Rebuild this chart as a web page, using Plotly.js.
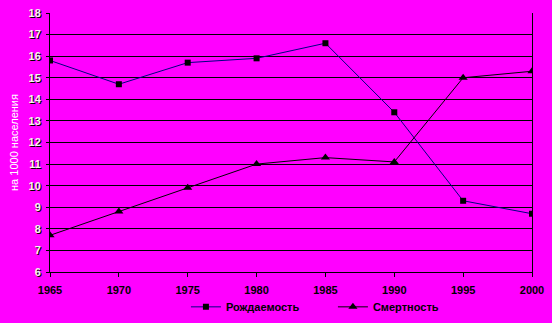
<!DOCTYPE html>
<html><head><meta charset="utf-8">
<script src="https://cdn.plot.ly/plotly-3.0.1.min.js"></script>
<style>body{margin:0;background:#FF00FF;}#c{width:552px;height:323px;}</style>
</head><body><div id="c"></div>
<script>
const years = [1965, 1970, 1975, 1980, 1985, 1990, 1995, 2000];
const birthRate = [15.8, 14.7, 15.7, 15.9, 16.6, 13.4, 9.3, 8.7];
const deathRate = [7.7, 8.8, 9.9, 11.0, 11.3, 11.1, 15.0, 15.3];
const seriesNames = ['Рождаемость', 'Смертность'];
const yTitle = 'на 1000 населения';

const traces = [
  {x: years, y: birthRate, name: seriesNames[0], mode: 'lines+markers', type: 'scatter',
   line: {color: '#000080', width: 1}, marker: {symbol: 'square', size: 6, color: '#000'}},
  {x: years, y: deathRate, name: seriesNames[1], mode: 'lines+markers', type: 'scatter',
   line: {color: '#000', width: 1}, marker: {symbol: 'triangle-up', size: 8, color: '#000'}}
];
const layout = {
  width: 552, height: 323,
  paper_bgcolor: '#FF00FF', plot_bgcolor: '#FF00FF',
  margin: {l: 50, r: 20, t: 13, b: 51},
  font: {family: 'Liberation Sans, Arial, sans-serif', color: '#000'},
  xaxis: {range: [1965, 2000], tickvals: years, ticks: 'outside', ticklen: 4, tickcolor: '#000',
    showgrid: false, zeroline: false, showline: true, linecolor: '#000', linewidth: 1,
    automargin: false, ticklabelstandoff: 4,
    tickfont: {size: 11, weight: 'bold', color: '#000'}},
  yaxis: {range: [6, 18], dtick: 1, ticks: 'outside', ticklen: 3, tickcolor: '#000',
    showgrid: true, gridcolor: '#000', gridwidth: 1, zeroline: false,
    showline: true, linecolor: '#000', linewidth: 1, mirror: true,
    automargin: false, ticklabelstandoff: 3,
    tickfont: {size: 11, weight: 'bold', color: '#f4f4f4', shadow: '1px 1px 0px #000'},
    title: {text: yTitle, standoff: 7, font: {size: 11, color: '#fff'}}},
  showlegend: true,
  legend: {orientation: 'h', x: 0.282, xanchor: 'left', xref: 'paper',
    y: 0.05, yanchor: 'middle', yref: 'container', entrywidth: 102, entrywidthmode: 'pixels',
    bgcolor: 'rgba(0,0,0,0)', font: {size: 11, weight: 'bold', color: '#000'}, itemwidth: 30},
};
Plotly.newPlot('c', traces, layout, {displayModeBar: false, staticPlot: true});
</script></body></html>
